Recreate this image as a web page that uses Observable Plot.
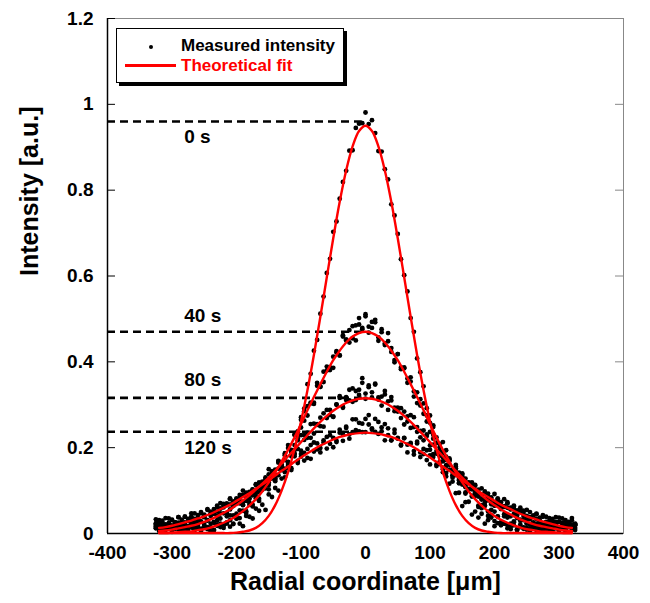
<!DOCTYPE html>
<html><head><meta charset="utf-8">
<script src="https://cdn.jsdelivr.net/npm/d3@7"></script>
<script src="https://cdn.jsdelivr.net/npm/@observablehq/plot@0.6"></script>
<style>
body{margin:0;background:#fff}
#wrap{position:relative;width:650px;height:603px;font-family:'Liberation Sans',Arial,sans-serif;font-weight:bold}
#legend{position:absolute;left:116px;top:28px;width:226px;height:53px;border:1.5px solid #000;box-shadow:3px 3px 0 #000;background:#fff}
#legend .dot{position:absolute;left:31.5px;top:15.5px;width:4px;height:4px;border-radius:50%;background:#000}
#legend .ln{position:absolute;left:7.5px;top:35px;width:51px;height:3px;background:#ff0000}
#legend .t{position:absolute;left:64px;font-size:17px;line-height:20px;white-space:nowrap}
</style></head>
<body><div id="wrap"><div id="chart"></div>
<div id="legend"><div class="dot"></div><div class="t" id="l1" style="top:6.5px;color:#000"></div><div class="ln"></div><div class="t" id="l2" style="top:26.5px;color:#ff0000"></div></div>
</div>
<script>
// ---- data ----
const xTicks = [-400,-300,-200,-100,0,100,200,300,400];
const xTickLabels = ["-400","-300","-200","-100","0","100","200","300","400"];
const yTicks = [0,0.2,0.4,0.6,0.8,1,1.2];
const yTickLabels = ["0","0.2","0.4","0.6","0.8","1","1.2"];
const legendLabels = ["Measured intensity","Theoretical fit"];
const times = ["0 s","40 s","80 s","120 s"];
const peakLevels = [0.96,0.47,0.316,0.237];
const labelLevels = [0.923,0.508,0.357,0.200];

// measured radial positions (µm)
const xMeas = [-325,-320,-315,-310,-305,-300,-295,-290,-285,-280,-275,-270,-265,-260,-255,-250,-245,-240,-235,-230,-225,-220,-215,-210,-205,-200,-195,-190,-185,-180,-175,-170,-165,-160,-155,-150,-145,-140,-135,-130,-125,-120,-115,-110,-105,-100,-95,-90,-85,-80,-75,-70,-65,-60,-55,-50,-45,-40,-35,-30,-25,-20,-15,-10,-5,0,5,10,15,20,25,30,35,40,45,50,55,60,65,70,75,80,85,90,95,100,105,110,115,120,125,130,135,140,145,150,155,160,165,170,175,180,185,190,195,200,205,210,215,220,225,230,235,240,245,250,255,260,265,270,275,280,285,290,295,300,305,310,315,320,325];

const meas0 = [.012,.006,.015,.008,.014,.004,.011,.015,.007,.011,
.005,.014,.009,.013,.006,.017,.010,.014,.008,.018,
.015,.013,.023,.016,.023,.035,.023,.017,.041,.039,
.035,.058,.053,.067,.055,.091,.085,.106,.100,.128,
.151,.152,.180,.194,.238,.265,.291,.348,.372,.426,
.451,.512,.552,.607,.640,.703,.727,.780,.819,.845,
.892,.893,.945,.955,.956,
.981,
.954,.963,.933,.891,.890,.849,.825,.767,.741,.698,
.639,.602,.564,.502,.470,.408,.376,.343,.292,.275,
.230,.211,.167,.168,.141,.116,.121,.094,.095,.064,
.073,.074,.044,.051,.037,.046,.023,.031,.037,.017,
.024,.019,.023,.012,.015,.019,.008,.015,.011,.013,
.006,.014,.008,.016,.008,.011,.005,.014,.012,.007,
.011,.006,.015,.009,.013];

const meas40 = [.020,.015,.022,.012,.017,.013,.019,.021,.010,.017,
.014,.023,.013,.020,.011,.018,.015,.023,.008,.031,
.023,.019,.040,.031,.042,.035,.054,.053,.048,.072,
.067,.082,.081,.109,.112,.103,.138,.137,.168,.158,
.183,.206,.195,.230,.237,.271,.263,.297,.303,.305,
.344,.342,.377,.380,.381,.412,.422,.415,.459,.450,
.474,.455,.485,.502,.479,
.506,
.482,.493,.498,.457,.476,.443,.448,.432,.404,.418,
.383,.387,.361,.354,.319,.329,.298,.303,.261,.258,
.248,.211,.209,.189,.194,.173,.144,.152,.127,.130,
.096,.103,.088,.088,.065,.066,.064,.041,.042,.051,
.039,.025,.040,.020,.023,.028,.008,.021,.013,.023,
.012,.020,.015,.021,.010,.017,.013,.022,.017,.009,
.020,.014,.022,.011,.019];

const meas40b = [.022,.014,.009,.019,.024,.012,.015,.021,.010,.017,
.012,.025,.008,.018,.011,.022,.013,.005,.025,.021,
.035,.019,.026,.042,.022,.046,.036,.066,.052,.067,
.063,.088,.076,.110,.105,.113,.138,.128,.167,.148,
.171,.199,.193,.230,.222,.247,.285,.275,.305,.302,
.351,.342,.353,.389,.387,.386,.425,.415,.462,.452,
.445,.483,.450,.487,.476,
.511,
.468,.479,.492,.449,.469,.439,.467,.423,.399,.418,
.387,.385,.351,.364,.331,.304,.313,.279,.275,.237,
.252,.224,.193,.213,.171,.170,.149,.156,.118,.127,
.093,.103,.086,.092,.062,.059,.066,.051,.055,.029,
.040,.026,.023,.037,.010,.026,.010,.032,.014,.009,
.021,.015,.023,.010,.018,.012,.021,.007,.020,.013,
.024,.011,.016,.021,.008];

const meas80 = [.024,.015,.018,.012,.022,.019,.014,.025,.018,.026,
.017,.027,.025,.032,.027,.039,.030,.041,.046,.041,
.058,.047,.070,.068,.065,.082,.070,.090,.089,.081,
.102,.101,.119,.105,.127,.138,.128,.149,.169,.157,
.182,.167,.188,.206,.197,.229,.218,.235,.223,.256,
.255,.250,.280,.269,.288,.272,.300,.316,.293,.318,
.310,.338,.311,.335,.351,
.326,
.345,.329,.349,.312,.319,.332,.288,.310,.293,.293,
.269,.284,.261,.276,.248,.248,.224,.240,.227,.205,
.207,.186,.201,.177,.179,.169,.144,.160,.133,.137,
.111,.118,.119,.096,.096,.079,.092,.077,.080,.065,
.079,.057,.062,.043,.057,.046,.036,.050,.031,.034,
.037,.026,.020,.028,.024,.017,.025,.017,.021,.011,
.024,.017,.022,.013,.020];

const meas80b = [.013,.025,.017,.012,.023,.014,.020,.010,.025,.021,
.016,.032,.022,.029,.028,.039,.031,.045,.027,.051,
.047,.066,.048,.056,.075,.071,.083,.067,.087,.082,
.089,.113,.096,.121,.114,.150,.134,.130,.165,.161,
.187,.166,.192,.186,.217,.193,.229,.223,.255,.233,
.253,.270,.249,.288,.276,.272,.301,.320,.295,.311,
.335,.307,.332,.323,.362,
.314,
.341,.317,.347,.317,.298,.324,.308,.318,.285,.284,
.292,.254,.273,.246,.271,.237,.239,.217,.231,.195,
.221,.192,.182,.188,.157,.175,.135,.136,.142,.114,
.128,.103,.103,.113,.086,.091,.072,.093,.070,.065,
.076,.059,.045,.060,.040,.058,.042,.030,.041,.024,
.033,.024,.034,.018,.022,.026,.013,.021,.014,.027,
.015,.010,.024,.016,.022];

const meas120 = [.033,.024,.030,.021,.035,.031,.026,.038,.032,.039,
.029,.040,.047,.037,.047,.044,.055,.047,.057,.065,
.058,.069,.066,.082,.067,.078,.090,.074,.095,.093,
.103,.096,.116,.109,.131,.119,.132,.122,.151,.152,
.143,.158,.152,.180,.169,.185,.188,.176,.206,.191,
.210,.189,.212,.225,.209,.223,.213,.242,.231,.249,
.231,.266,.241,.258,.236,
.267,
.254,.242,.267,.232,.247,.255,.229,.217,.234,.223,
.207,.223,.207,.211,.184,.210,.189,.197,.171,.182,
.185,.161,.162,.143,.159,.149,.130,.151,.124,.132,
.108,.119,.108,.111,.093,.105,.079,.087,.084,.073,
.082,.064,.080,.070,.060,.065,.054,.060,.053,.041,
.050,.042,.046,.031,.039,.039,.029,.034,.038,.027,
.035,.022,.027,.031,.021];

const meas120b = [.017,.031,.026,.036,.022,.032,.026,.038,.024,.039,
.034,.047,.034,.043,.050,.038,.057,.051,.048,.062,
.071,.061,.067,.080,.064,.080,.074,.100,.076,.097,
.090,.115,.105,.102,.125,.124,.145,.125,.136,.158,
.131,.162,.148,.185,.164,.179,.170,.197,.174,.212,
.196,.199,.217,.198,.229,.201,.216,.235,.216,.246,
.221,.236,.266,.238,.256,
.236,
.276,.245,.237,.260,.238,.217,.245,.217,.242,.221,
.205,.222,.189,.209,.192,.214,.178,.185,.194,.161,
.178,.157,.182,.150,.133,.160,.136,.143,.117,.140,
.118,.104,.117,.098,.102,.081,.098,.085,.068,.092,
.067,.073,.064,.073,.056,.063,.046,.056,.048,.055,
.038,.039,.045,.037,.043,.027,.036,.027,.027,.037,
.020,.031,.021,.036,.023];

// theoretical fit curves
const xFit = [-320,-310,-300,-290,-280,-270,-260,-250,-240,-230,-220,-210,-200,-190,-180,-170,-160,-150,-140,-130,-120,-110,-100,-90,-80,-70,-60,-50,-40,-30,-20,-10,0,10,20,30,40,50,60,70,80,90,100,110,120,130,140,150,160,170,180,190,200,210,220,230,240,250,260,270,280,290,300,310,320];
const fit0 = [.001,.001,.001,.001,.001,.001,.001,.001,.001,.001,.001,.001,.002,.004,.007,.013,.024,.041,.066,.100,.143,.197,.261,.334,.416,.505,.597,.688,.773,.846,.902,.938,
.950,
.938,.902,.846,.773,.688,.597,.505,.416,.334,.261,.197,.143,.100,.066,.041,.024,.013,.007,.004,.002,.001,.001,.001,.001,.001,.001,.001,.001,.001,.001,.001,.001];
const fit40 = [.001,.001,.002,.003,.004,.005,.008,.010,.014,.019,.025,.032,.041,.052,.065,.080,.098,.119,.142,.168,.195,.224,.255,.287,.318,.348,.377,.404,.426,.445,.459,.467,
.470,
.467,.459,.445,.426,.404,.377,.348,.318,.287,.255,.224,.195,.168,.142,.119,.098,.080,.065,.052,.041,.032,.025,.019,.014,.010,.008,.005,.004,.003,.002,.001,.001];
const fit80 = [.006,.007,.009,.012,.015,.018,.022,.027,.033,.040,.048,.056,.066,.077,.089,.102,.116,.130,.146,.163,.180,.196,.213,.229,.245,.260,.274,.286,.296,.304,.310,.314,
.315,
.314,.310,.304,.296,.286,.274,.260,.245,.229,.213,.196,.180,.163,.146,.130,.116,.102,.089,.077,.066,.056,.048,.040,.033,.027,.022,.018,.015,.012,.009,.007,.006];
const fit120 = [.013,.015,.018,.022,.026,.030,.035,.040,.046,.053,.060,.067,.076,.085,.094,.104,.114,.124,.135,.146,.156,.167,.177,.187,.196,.205,.212,.219,.225,.229,.232,.234,
.235,
.234,.232,.229,.225,.219,.212,.205,.196,.187,.177,.167,.156,.146,.135,.124,.114,.104,.094,.085,.076,.067,.060,.053,.046,.040,.035,.030,.026,.022,.018,.015,.013];

// ---- tables ----
const measSeries = [[meas0], [meas40, meas40b], [meas80, meas80b], [meas120, meas120b]];
const fitSeries = [fit0, fit40, fit80, fit120];
const measured = measSeries.flatMap((sets, s) => sets.flatMap(arr => xMeas.map((x, i) => ({x, y: arr[i], t: times[s]}))));
const fits = fitSeries.flatMap((arr, s) => xFit.map((x, i) => ({x, y: arr[i], t: times[s]})));
const peaks = times.map((t, i) => ({t, level: peakLevels[i], lab: labelLevels[i]}));

const xMin = xTicks[0], xMax = xTicks[xTicks.length - 1];
const tickLen = 12.4; // ≈8px in µm units

const chart = Plot.plot({
  width: 650, height: 603,
  marginLeft: 107, marginRight: 27, marginTop: 18, marginBottom: 70,
  x: {domain: [xMin, xMax]},
  y: {domain: [0, 1.2]},
  style: {fontFamily: "'Liberation Sans', Arial, sans-serif", fontWeight: "bold", fontSize: "19px", color: "#000", background: "#fff"},
  marks: [
    Plot.frame({stroke: "#888", strokeWidth: 1}),
    Plot.axisX({ticks: xTicks, tickFormat: d => xTickLabels[xTicks.indexOf(d)], tickSize: 0, tickPadding: 12, label: null, fontSize: 19}),
    Plot.axisY({ticks: yTicks, tickFormat: d => yTickLabels[yTicks.indexOf(d)], tickSize: 0, tickPadding: 14, label: null, fontSize: 19}),
    Plot.ruleY(yTicks, {x1: xMin, x2: xMin + tickLen, stroke: "#000", strokeWidth: 1}),
    Plot.ruleY(yTicks, {x1: xMax - tickLen, x2: xMax, stroke: "#888", strokeWidth: 1}),
    Plot.ruleX([xMin], {stroke: "#000", strokeWidth: 1.5}),
    Plot.ruleY([0], {stroke: "#000", strokeWidth: 1.5}),
    Plot.ruleY(peaks, {y: "level", x1: xMin, x2: -5, stroke: "#000", strokeWidth: 2.6, strokeDasharray: "8,5"}),
    Plot.text(peaks, {x: -281, y: "lab", text: "t", textAnchor: "start", fontSize: 19, fontWeight: "bold"}),
    Plot.dot(measured, {x: "x", y: "y", r: 2.4, fill: "#000", stroke: "none"}),
    Plot.line(fits, {x: "x", y: "y", z: "t", stroke: "#ff0000", strokeWidth: 2.4, curve: "catmull-rom"}),
    Plot.text(["Radial coordinate [μm]"], {frameAnchor: "bottom", dy: 56, fontSize: 25, fontWeight: "bold"}),
    Plot.text(["Intensity [a.u.]"], {frameAnchor: "left", dx: -78, dy: 0, rotate: -90, fontSize: 25, fontWeight: "bold"})
  ]
});
document.getElementById("chart").appendChild(chart);
document.getElementById("l1").textContent = legendLabels[0];
document.getElementById("l2").textContent = legendLabels[1];
</script>
</body></html>
